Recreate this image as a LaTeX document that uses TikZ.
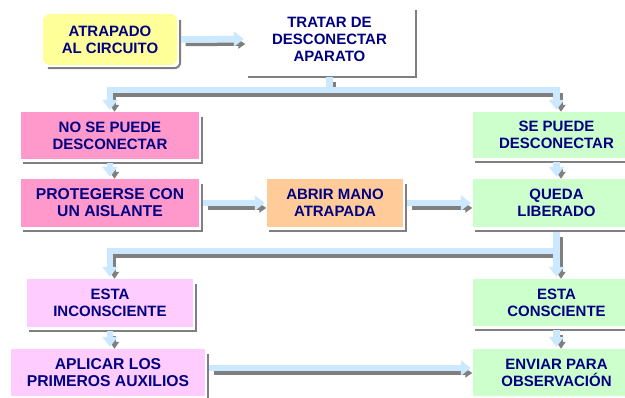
\documentclass[tikz,border=0pt]{standalone}
\usepackage{fontspec}
\setmainfont{Liberation Sans}
\usetikzlibrary{arrows.meta}
\definecolor{txtc}{RGB}{0,0,128}
\definecolor{yellowc}{HTML}{FFFF99}
\definecolor{pinkc}{HTML}{FF99CC}
\definecolor{orangec}{HTML}{FFCC99}
\definecolor{greenc}{HTML}{CCFFCC}
\definecolor{magc}{HTML}{FFCCFF}
\definecolor{connc}{HTML}{CCE8FF}
\definecolor{shadc}{HTML}{7F7F7F}
\tikzset{
  box/.style={rectangle, inner sep=0pt, align=center, text=txtc,
    font=\fontsize{15}{17}\selectfont\bfseries},
  bigtext/.style={font=\fontsize{15.7}{17}\selectfont\bfseries},
  shadline/.style={draw=shadc, line width=2pt, line cap=butt, line join=miter},
  flowblue/.style={draw=connc, line width=6.5pt, line cap=butt, line join=miter},
  flowshadow/.style={draw=shadc, line width=3.5pt, line cap=butt, line join=miter}
}
\newcommand\boxshadow[1]{%
  \draw[shadline] ([shift={(3pt,-5pt)}]#1.north east) --
    ([shift={(3pt,-3.5pt)}]#1.south east) -- ([shift={(2pt,-3.5pt)}]#1.south west);}
\newcommand\flowline[1]{%
  \draw[flowshadow,transform canvas={shift={(4.5pt,-5pt)}}] #1;
  \draw[flowblue] #1;}
\newcommand\flowarrow[1]{%
  \draw[flowshadow,-{Triangle[length=7pt,width=9pt]},shorten >=5pt,
    transform canvas={shift={(4.5pt,-5pt)}}] #1;
  \draw[flowblue,-{Triangle[length=10pt,width=15pt]},shorten >=2pt] #1;}
\begin{document}
\begin{tikzpicture}[x=1pt,y=-1pt]
\useasboundingbox (0,0) rectangle (625,398);
% top
\node[box, fill=yellowc, rounded corners=7pt, minimum width=134pt, minimum height=51pt] (atr) at (110,39.5) {ATRAPADO\\AL CIRCUITO};
\draw[shadline, rounded corners=6pt] ([shift={(3pt,-6pt)}]atr.north east) -- ([shift={(3pt,-3pt)}]atr.south east) -- ([shift={(5pt,-3pt)}]atr.south west);
\node[box, fill=white, minimum width=167pt, minimum height=68pt] (tratar) at (329.5,39) {TRATAR DE\\DESCONECTAR\\APARATO};
% row 2
\node[box, fill=pinkc, minimum width=178pt, minimum height=47pt] (no) at (110,135.5) {NO SE PUEDE\\DESCONECTAR};
\node[box, fill=greenc, minimum width=167pt, minimum height=46pt] (se) at (556.5,135) {SE PUEDE\\DESCONECTAR};
% row 3
\node[box, bigtext, fill=pinkc, minimum width=178pt, minimum height=48pt] (prot) at (110,203) {PROTEGERSE CON\\UN AISLANTE};
\node[box, fill=orangec, minimum width=136pt, minimum height=48pt] (abrir) at (335,203) {ABRIR MANO\\ATRAPADA};
\node[box, fill=greenc, minimum width=167pt, minimum height=48pt] (queda) at (556.5,203) {QUEDA\\LIBERADO};
% row 4
\node[box, fill=magc, minimum width=166pt, minimum height=48pt] (inc) at (110,303) {ESTA\\INCONSCIENTE};
\node[box, fill=greenc, minimum width=167pt, minimum height=47pt] (cons) at (556.5,302.5) {ESTA\\CONSCIENTE};
% row 5
\node[box, bigtext, fill=magc, minimum width=194pt, minimum height=47pt] (aplicar) at (108,372.5) {APLICAR LOS\\PRIMEROS AUXILIOS};
\node[box, fill=greenc, minimum width=167pt, minimum height=47pt] (enviar) at (556.5,372.5) {ENVIAR PARA\\OBSERVACIÓN};
% shadows
\foreach \n in {tratar,no,se,prot,abrir,queda,inc,cons,aplicar,enviar}{\boxshadow{\n}}
% connectors
\flowarrow{([xshift=4pt]atr.east) -- (tratar.west)}
\coordinate (f1) at (tratar.south |- 0,90);
\flowline{([yshift=-4pt]tratar.south) -- (f1)}
\flowarrow{(f1) -| (no.north)}
\flowarrow{(f1) -| (se.north)}
\flowarrow{([yshift=-4pt]no.south) -- (prot.north)}
\flowarrow{([yshift=-4pt]se.south) -- (queda.north)}
\flowarrow{([xshift=4pt]prot.east) -- (abrir.west)}
\flowarrow{([xshift=4pt]abrir.east) -- (queda.west)}
\coordinate (f2) at (queda.south |- 0,251);
\flowline{([yshift=-5pt]queda.south) -- (f2)}
\flowarrow{(f2) -| (inc.north)}
\flowarrow{(f2) -- (cons.north)}
\flowarrow{([yshift=-4pt]inc.south) -- (inc.south |- aplicar.north)}
\flowarrow{([yshift=-4pt]cons.south) -- (enviar.north)}
\flowarrow{([shift={(4pt,4.5pt)}]aplicar.east) -- ([yshift=4.5pt]aplicar.east -| enviar.west)}
\end{tikzpicture}
\end{document}
